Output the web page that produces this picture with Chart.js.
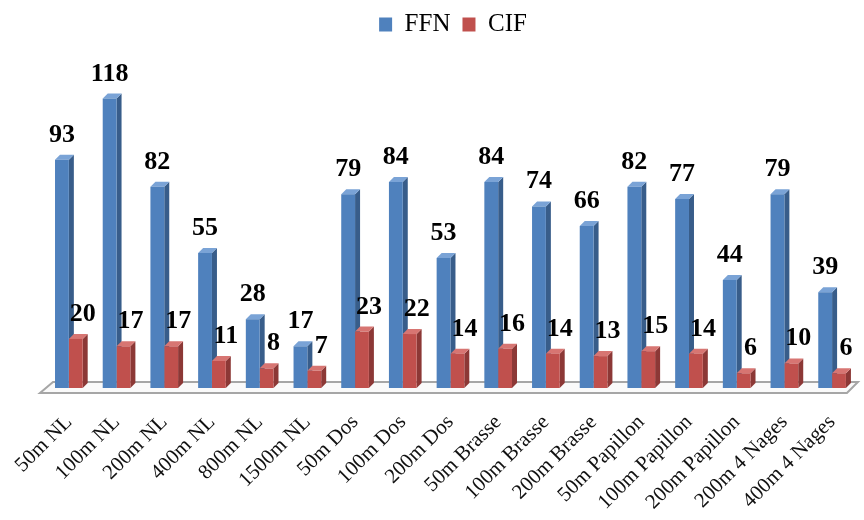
<!DOCTYPE html>
<html>
<head>
<meta charset="utf-8">
<script src="https://cdn.jsdelivr.net/npm/chart.js@4/dist/chart.umd.min.js"></script>
<style>
  html, body { margin: 0; padding: 0; background: #fff; }
  #wrap { width: 864px; height: 520px; }
</style>
</head>
<body>
<div id="wrap"><canvas id="chart" width="864" height="520"></canvas></div>
<script>
// Nages / distances
var categories = ['50m NL', '100m NL', '200m NL', '400m NL', '800m NL', '1500m NL',
  '50m Dos', '100m Dos', '200m Dos', '50m Brasse', '100m Brasse', '200m Brasse',
  '50m Papillon', '100m Papillon', '200m Papillon', '200m 4 Nages', '400m 4 Nages'];
var ffn = [93, 118, 82, 55, 28, 17, 79, 84, 53, 84, 74, 66, 82, 77, 44, 79, 39];
var cif = [20, 17, 17, 11, 8, 7, 23, 22, 14, 16, 14, 13, 15, 14, 6, 10, 6];

var DEPTH = 5;
var faces = [
  { side: '#385d8a', top: '#7aa3d6' },
  { side: '#8c3836', top: '#d77572' }
];
var labelShift = [0, 7];

// floor + side/top faces of each bar, drawn before the fronts
var bars3d = {
  id: 'bars3d',
  beforeDatasetsDraw: function(chart) {
    var ctx = chart.ctx, a = chart.chartArea;
    var base = chart.scales.y.getPixelForValue(0);
    ctx.save();
    // floor
    ctx.fillStyle = '#fafafa';
    ctx.strokeStyle = '#a6a6a6';
    ctx.lineWidth = 2;
    ctx.beginPath();
    ctx.moveTo(a.left - 5, base + 5);
    ctx.lineTo(a.right - 9, base + 5);
    ctx.lineTo(a.right + 2, base - 6);
    ctx.lineTo(a.left + 8, base - 6);
    ctx.closePath();
    ctx.fill();
    ctx.stroke();
    chart.data.datasets.forEach(function(ds, i) {
      chart.getDatasetMeta(i).data.forEach(function(bar) {
        var w = bar.width, l = bar.x - w / 2, r = bar.x + w / 2, y = bar.y, b = bar.base;
        ctx.fillStyle = faces[i].side;
        ctx.beginPath();
        ctx.moveTo(r, y);
        ctx.lineTo(r + DEPTH, y - DEPTH);
        ctx.lineTo(r + DEPTH, b - DEPTH);
        ctx.lineTo(r, b);
        ctx.closePath();
        ctx.fill();
        ctx.fillStyle = faces[i].top;
        ctx.beginPath();
        ctx.moveTo(l, y);
        ctx.lineTo(l + DEPTH, y - DEPTH);
        ctx.lineTo(r + DEPTH, y - DEPTH);
        ctx.lineTo(r, y);
        ctx.closePath();
        ctx.fill();
      });
    });
    ctx.restore();
  },
  afterDatasetsDraw: function(chart) {
    var ctx = chart.ctx;
    ctx.save();
    ctx.font = 'bold 26px "Liberation Serif"';
    ctx.fillStyle = '#000';
    ctx.textAlign = 'center';
    ctx.textBaseline = 'alphabetic';
    chart.data.datasets.forEach(function(ds, i) {
      chart.getDatasetMeta(i).data.forEach(function(bar, j) {
        ctx.fillText(ds.data[j], bar.x + labelShift[i], bar.y - 18);
      });
    });
    ctx.restore();
  }
};

new Chart(document.getElementById('chart'), {
  type: 'bar',
  data: {
    labels: categories,
    datasets: [
      { label: 'FFN', data: ffn, backgroundColor: '#4f81bd' },
      { label: 'CIF', data: cif, backgroundColor: '#c0504d' }
    ]
  },
  options: {
    responsive: false,
    animation: false,
    layout: { padding: { left: 45, right: 3, top: 0, bottom: 0 } },
    datasets: { bar: { categoryPercentage: 0.58, barPercentage: 1.0 } },
    plugins: {
      legend: {
        position: 'top',
        labels: {
          font: { family: 'Liberation Serif', size: 25 },
          color: '#000',
          boxWidth: 13,
          boxHeight: 14,
          padding: 12
        }
      },
      tooltip: { enabled: false }
    },
    scales: {
      x: {
        grid: { display: false },
        border: { display: false },
        afterFit: function(scale) { scale.height = 132; },
        ticks: {
          font: { family: 'Liberation Serif', size: 21 },
          color: '#111',
          maxRotation: 45,
          minRotation: 45,
          padding: 14,
          autoSkip: false
        }
      },
      y: {
        display: false,
        min: 0,
        max: 139
      }
    }
  },
  plugins: [bars3d]
});
</script>
</body>
</html>
